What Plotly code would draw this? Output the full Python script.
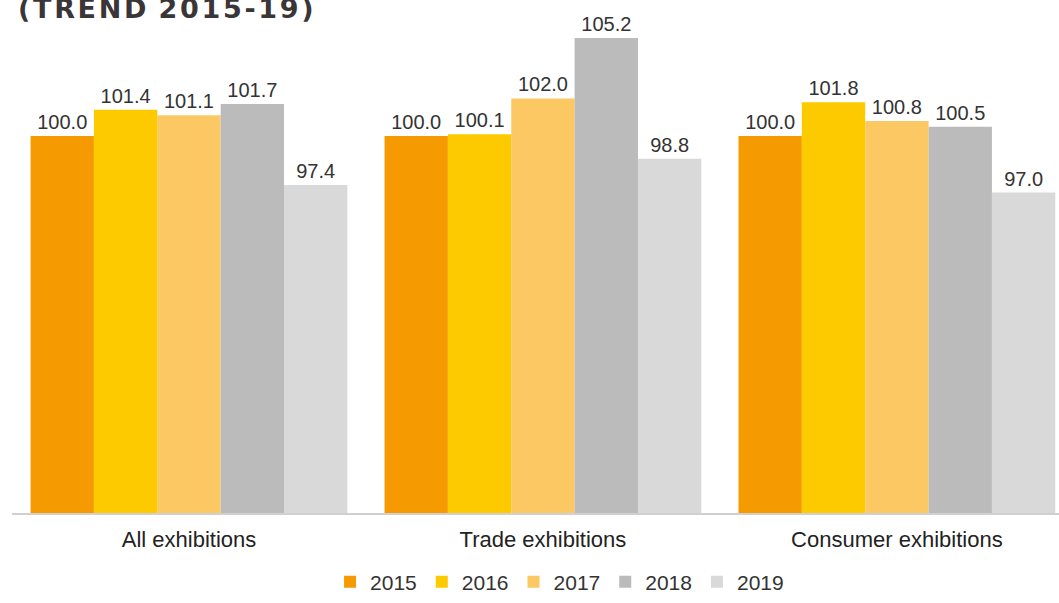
import plotly.graph_objects as go

categories = ["All exhibitions", "Trade exhibitions", "Consumer exhibitions"]
years = ["2015", "2016", "2017", "2018", "2019"]
values_2015 = [100.0, 100.0, 100.0]
values_2016 = [101.4, 100.1, 101.8]
values_2017 = [101.1, 102.0, 100.8]
values_2018 = [101.7, 105.2, 100.5]
values_2019 = [97.4, 98.8, 97.0]
series = [values_2015, values_2016, values_2017, values_2018, values_2019]
colors = ["#F59A00", "#FDCA00", "#FBC864", "#BBBBBB", "#D9D9D9"]

fig = go.Figure()
for yr, vals, col in zip(years, series, colors):
    fig.add_trace(go.Bar(
        name=yr, x=categories, y=vals, marker=dict(color=col, line=dict(width=0)),
        texttemplate="%{y:.1f}", textposition="outside",
        textfont=dict(size=20, color="#333333", family="Liberation Sans"),
        cliponaxis=False,
    ))

hs = "\u200a"
title_text = hs.join("(TREND") + " " + hs + hs.join("2015-19)")
fig.add_annotation(
    text="<b>" + title_text + "</b>", xref="paper", yref="paper",
    x=0.004, y=1.0306, xanchor="left", yanchor="middle", showarrow=False,
    font=dict(size=27, color="#3A3536", family="DejaVu Sans"),
)

fig.update_layout(
    width=1059, height=603,
    margin=dict(l=12, r=0, t=23, b=90),
    paper_bgcolor="white", plot_bgcolor="white",
    barmode="group", bargap=0.105, bargroupgap=0,
    font=dict(family="Liberation Sans", size=21, color="#222222"),
    showlegend=True,
    legend=dict(orientation="h", x=0.523, xanchor="center", y=-0.141, yanchor="middle",
                font=dict(size=21, color="#333333"), itemwidth=30, traceorder="normal"),
    xaxis=dict(range=[-0.5, 2.458], showline=True, linecolor="#D0D0D0", linewidth=1.5,
               ticks="", showgrid=False, ticklabelstandoff=6,
               tickfont=dict(size=22, color="#222222")),
    yaxis=dict(range=[80, 106], visible=False, showgrid=False, zeroline=False),
)

fig.write_html("out.html", config={"displayModeBar": False},
               post_script="document.body.style.margin='0px';")
